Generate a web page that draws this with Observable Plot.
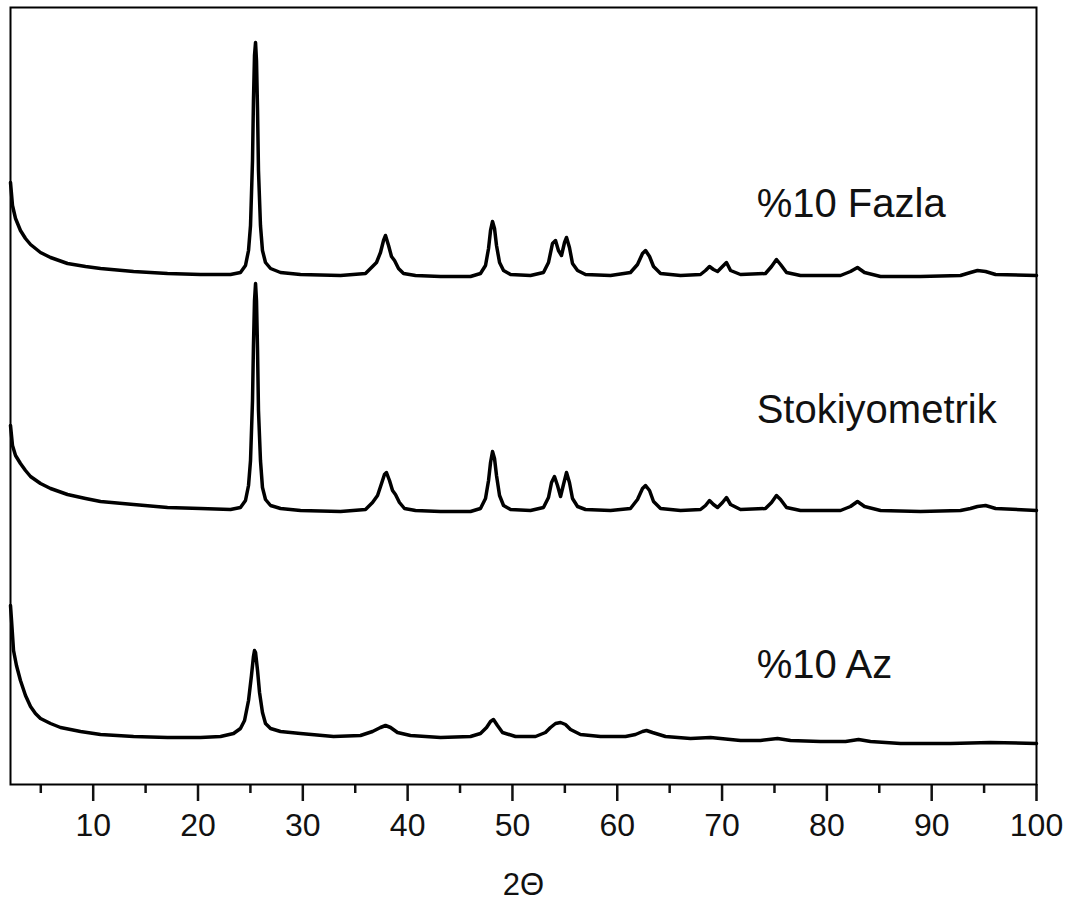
<!DOCTYPE html>
<html>
<head>
<meta charset="utf-8">
<script src="https://cdn.jsdelivr.net/npm/d3@7"></script>
<script src="https://cdn.jsdelivr.net/npm/@observablehq/plot@0.6"></script>
<style>
  body { margin: 0; background: #fff; }
</style>
</head>
<body>
<div id="chart"></div>
<script>
// XRD patterns, [2θ (degrees), intensity (a.u., stacked with offsets)]
const fazla = [
  [2.11,602],[2.30,579],[2.59,566],[3.06,554],[3.54,546],[4.02,540],[4.97,532],[5.93,527],[7.55,521],[9.27,518],
  [10.70,516],[13.85,513],[17.09,511],[20.24,510],[23.10,510],[24.05,512],[24.53,519],[24.82,534],[25.01,559],[25.20,624],
  [25.29,684],[25.39,729],[25.49,742],[25.58,724],[25.68,674],[25.77,614],[25.96,559],[26.15,534],[26.44,522],[26.92,516],
  [27.87,512],[29.78,510],[33.60,509],[35.98,511],[36.65,518],[37.03,522],[37.41,532],[37.70,544],[37.89,549],[38.18,539],
  [38.46,528],[38.75,524],[39.13,516],[39.61,511],[40.75,509],[43.14,508],[46.00,508],[46.95,511],[47.43,519],[47.72,536],
  [47.91,554],[48.10,563],[48.29,556],[48.48,539],[48.77,522],[49.15,514],[49.82,510],[51.72,509],[52.96,512],[53.44,522],
  [53.82,541],[54.11,544],[54.39,534],[54.68,529],[54.97,542],[55.16,547],[55.44,537],[55.73,521],[56.21,514],[56.97,510],
  [59.36,509],[61.26,512],[61.93,520],[62.41,531],[62.70,534],[63.08,528],[63.46,518],[64.13,511],[66.04,509],[67.94,510],
  [68.42,514],[68.80,518],[69.18,515],[69.57,513],[70.04,518],[70.42,522],[70.81,514],[71.76,510],[74.14,511],[74.72,518],
  [75.19,525],[75.58,520],[76.15,512],[77.48,509],[81.30,509],[82.25,513],[82.92,517],[83.59,512],[85.12,508],[88.93,508],
  [92.75,509],[93.70,512],[94.37,514],[95.14,513],[96.09,510],[100,509]
];

const stokiyometrik = [
  [2.11,359],[2.30,339],[2.59,329],[3.06,321],[3.54,314],[4.02,308],[4.97,301],[5.93,296],[7.55,290],[9.27,286],
  [10.70,283],[13.85,280],[17.09,277],[20.24,276],[23.10,275],[24.05,277],[24.53,284],[24.82,299],[25.01,324],[25.20,384],
  [25.29,439],[25.39,484],[25.49,501],[25.58,484],[25.68,434],[25.77,374],[25.96,324],[26.15,297],[26.44,285],[26.92,279],
  [27.87,276],[29.78,274],[33.60,273],[35.98,275],[36.65,282],[37.13,289],[37.51,301],[37.79,310],[37.98,312],[38.27,304],
  [38.56,294],[38.84,290],[39.22,282],[39.70,276],[40.75,274],[43.14,273],[46.00,273],[46.95,276],[47.43,286],[47.72,304],
  [47.91,322],[48.10,333],[48.29,326],[48.48,309],[48.77,289],[49.15,279],[49.82,275],[51.72,274],[52.96,277],[53.44,287],
  [53.73,302],[54.01,308],[54.30,299],[54.59,288],[54.87,300],[55.16,312],[55.44,302],[55.73,286],[56.21,278],[56.97,275],
  [59.36,274],[61.26,276],[61.93,285],[62.41,296],[62.70,299],[63.08,294],[63.46,283],[64.13,276],[66.04,274],[67.94,275],
  [68.42,279],[68.80,284],[69.18,280],[69.57,277],[70.04,282],[70.42,287],[70.81,280],[71.76,275],[74.14,276],[74.72,282],
  [75.19,289],[75.58,285],[76.15,277],[77.48,274],[81.30,274],[82.25,278],[82.92,283],[83.59,278],[85.12,274],[88.93,273],
  [92.75,274],[93.70,276],[94.37,278],[95.14,279],[96.09,276],[100,274]
];

const az = [
  [2.11,179],[2.21,164],[2.40,134],[2.68,119],[3.06,104],[3.54,89],[4.02,78],[4.49,71],[4.97,66],[5.93,61],
  [6.88,57],[8.79,53],[10.70,50],[13.85,48],[17.09,47],[20.24,47],[22.15,48],[23.39,51],[24.05,56],[24.44,64],
  [24.82,84],[25.10,109],[25.29,128],[25.39,134],[25.49,132],[25.68,114],[25.87,92],[26.15,72],[26.44,61],[26.92,56],
  [27.87,53],[29.78,51],[32.93,48],[35.50,49],[36.65,53],[37.41,57],[37.89,59],[38.37,57],[39.03,52],[40.27,49],
  [43.14,47],[46.00,48],[46.95,51],[47.53,57],[47.91,63],[48.19,65],[48.57,59],[49.05,52],[50.29,48],[52.20,48],
  [53.15,52],[53.63,57],[54.11,61],[54.59,62],[55.06,60],[55.54,55],[56.49,50],[58.40,48],[60.79,48],[61.74,50],
  [62.41,53],[62.79,54],[63.36,52],[64.60,48],[66.99,46],[68.90,47],[69.85,46],[71.76,44],[73.67,44],[75.29,46],
  [76.53,44],[79.39,43],[81.78,43],[83.02,45],[84.16,43],[87.03,41],[91.80,41],[95.61,42],[100,41]
];

const samples = ["%10 Fazla", "Stokiyometrik", "%10 Az"];
const labelTheta = [73.3, 73.3, 73.3];
const labelIntensity = [580, 374, 119];

const majorTicks = [10, 20, 30, 40, 50, 60, 70, 80, 90, 100];
const minorTicks = [5, 15, 25, 35, 45, 55, 65, 75, 85, 95];

// Long-format table for the line mark
const rows = [];
[fazla, stokiyometrik, az].forEach((series, i) =>
  series.forEach(([theta, intensity]) => rows.push({sample: samples[i], theta, intensity}))
);

const font = "'Liberation Sans', Arial, Helvetica, sans-serif";

const chart = Plot.plot({
  width: 1075,
  height: 907,
  marginTop: 7,
  marginRight: 39,
  marginBottom: 123,
  marginLeft: 10,
  style: {fontFamily: font, fontSize: "32px", color: "#111", background: "#fff"},
  x: {domain: [2.11, 100], label: null},
  y: {domain: [0, 777], axis: null},
  marks: [
    Plot.axisX(minorTicks, {tickSize: 9, strokeWidth: 2.5, fill: "none", label: null}),
    Plot.axisX(majorTicks, {tickSize: 17, tickPadding: 12, strokeWidth: 2.5, fontSize: 32, label: null}),
    Plot.line(rows, {x: "theta", y: "intensity", z: "sample", stroke: "#000", strokeWidth: 3.5, strokeLinejoin: "round"}),
    Plot.text(samples, {
      x: (d, i) => labelTheta[i],
      y: (d, i) => labelIntensity[i],
      text: d => d,
      textAnchor: "start",
      fontSize: 40,
      fill: "#111"
    }),
    Plot.text(["2Θ"], {frameAnchor: "bottom", dy: 110, fontSize: 31, fill: "#111"}),
    Plot.frame({stroke: "#000", strokeWidth: 2})
  ]
});

document.getElementById("chart").appendChild(chart);
</script>
</body>
</html>
